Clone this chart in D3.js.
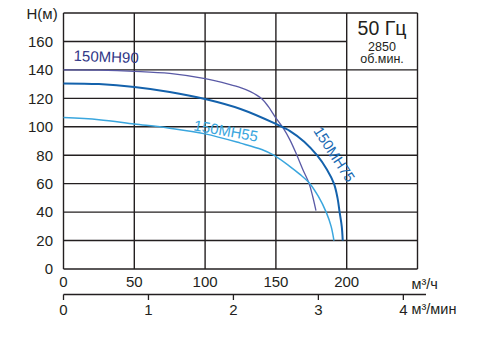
<!DOCTYPE html>
<html><head><meta charset="utf-8">
<script src="https://cdn.jsdelivr.net/npm/d3@7"></script>
<style>body{margin:0;background:#fff}svg{display:block}text{font-family:"Liberation Sans",Arial,sans-serif;fill:#231f20}</style>
</head><body><svg id="c" width="478" height="349"></svg>
<script>
const flowTicks = [0, 50, 100, 150, 200];
const headTicks = [0, 20, 40, 60, 80, 100, 120, 140, 160];
const minTicks = [0, 1, 2, 3, 4];
const seriesNames = ["150MH90", "150MH75", "150MH55"];
const mh90 = [[0,140],[25,139.8],[50,139],[75,137.5],[100,133.8],[117,129.8],[125,127.5],[132,124.7],[140,119.7],[144.6,114.3],[149.3,107.2],[155.2,99],[159.9,90.8],[164.6,80.5],[169,70],[173.5,60],[176,51],[178.3,41]];
const mh75 = [[0,130.5],[25,130],[50,128],[75,124.5],[100,119.5],[125,112.5],[150,102],[160,97],[170,89.5],[179,80],[186,70],[191,60],[193.5,50],[195,40],[196.5,30],[197.2,20]];
const mh55 = [[0,106.5],[25,105],[50,102],[75,99],[100,95],[125,88.5],[140,84],[148.5,80],[160,72],[167,66.5],[174,60],[180,51],[185.5,40],[189,30],[191,20]];

const svg = d3.select("#c");
const x = d3.scaleLinear().domain([0, 250]).range([63.5, 417.5]);
const y = d3.scaleLinear().domain([0, 180]).range([269, 13]);
const xm = d3.scaleLinear().domain([0, 250/60]).range([63.5, 417.5]);
const ink = "#231f20";

// grid
const g = svg.append("g").attr("stroke", ink).attr("stroke-width", 1.4).attr("fill", "none");
[0,50,100,150,200,250].forEach(v => g.append("line").attr("x1", x(v)).attr("x2", x(v)).attr("y1", y(0)).attr("y2", y(180)));
[0,20,40,60,80,100,120,140,160,180].forEach(v => g.append("line").attr("x1", x(0)).attr("x2", v===160 ? x(200) : x(250)).attr("y1", y(v)).attr("y2", y(v)));

// y labels
svg.append("g").selectAll("text").data(headTicks).join("text")
  .attr("x", 53).attr("y", d => y(d) + 5.3).attr("text-anchor", "end").attr("font-size", 15).text(d => d);
svg.append("text").attr("x", 26.5).attr("y", 19).attr("font-size", 15).text("Н(м)");

// x labels (m3/h)
svg.append("g").selectAll("text").data(flowTicks).join("text")
  .attr("x", d => x(d)).attr("y", 286.5).attr("text-anchor", "middle").attr("font-size", 15).text(d => d);
svg.append("text").attr("x", 411.5).attr("y", 288.5).attr("font-size", 14.5).text("м³/ч");

// second axis (m3/min)
const ax2 = svg.append("g").attr("stroke", ink).attr("stroke-width", 1.3);
ax2.append("line").attr("x1", xm(0)).attr("x2", 426).attr("y1", 294.5).attr("y2", 294.5);
ax2.selectAll("line.t").data(minTicks).join("line").attr("class","t")
  .attr("x1", d => xm(d)).attr("x2", d => xm(d)).attr("y1", 294.5).attr("y2", 300);
svg.append("g").selectAll("text").data(minTicks).join("text")
  .attr("x", d => xm(d)).attr("y", 314.5).attr("text-anchor", "middle").attr("font-size", 15).text(d => d);
svg.append("text").attr("x", 411.5).attr("y", 313.5).attr("font-size", 14.5).text("м³/мин");

// box text
svg.append("text").attr("x", 382).attr("y", 35).attr("text-anchor", "middle").attr("font-size", 19.5).text("50 Гц");
svg.append("text").attr("x", 382).attr("y", 50.7).attr("text-anchor", "middle").attr("font-size", 12.5).text("2850");
svg.append("text").attr("x", 382).attr("y", 63.3).attr("text-anchor", "middle").attr("font-size", 12.5).text("об.мин.");

// curves
const line = d3.line().x(d => x(d[0])).y(d => y(d[1])).curve(d3.curveCatmullRom.alpha(0.5));
const curves = [
  {data: mh90, color: "#5a5aa6", w: 1.3},
  {data: mh55, color: "#3aa6de", w: 1.5},
  {data: mh75, color: "#1462ac", w: 2}
];
curves.forEach(c => svg.append("path").attr("d", line(c.data)).attr("fill", "none").attr("stroke", c.color).attr("stroke-width", c.w));

// curve labels
svg.append("text").attr("transform", "translate(106,62) rotate(2)").attr("text-anchor","middle").attr("font-size", 15).style("fill", "#2f3686").text(seriesNames[0]);
svg.append("text").attr("transform", "translate(225,136) rotate(10)").attr("text-anchor","middle").attr("font-size", 15).style("fill", "#3aa6de").text(seriesNames[2]);
svg.append("text").attr("transform", "translate(330,157) rotate(57)").attr("text-anchor","middle").attr("font-size", 14.5).style("fill", "#1a6ab3").text(seriesNames[1]);
</script></body></html>
